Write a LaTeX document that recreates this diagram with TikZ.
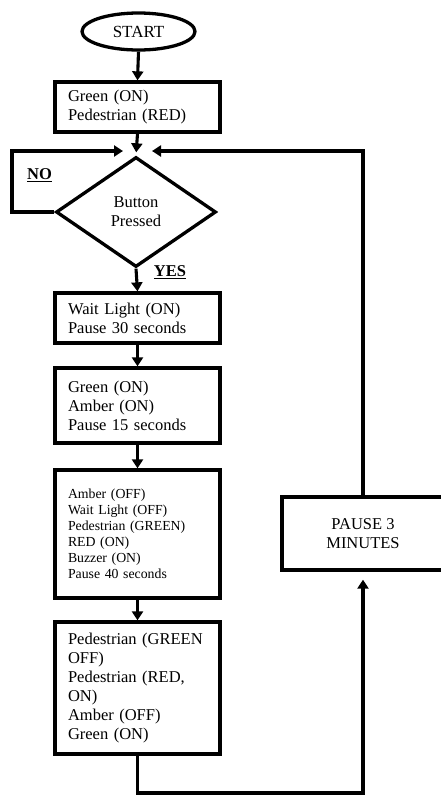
\documentclass[tikz,border=0pt]{standalone}
\usepackage{fontspec}
\setmainfont{Liberation Serif}
\usetikzlibrary{shapes.geometric,arrows.meta}
\tikzset{
  box/.style={draw,line width=3.3pt,minimum width=165pt,text width=139pt,inner xsep=13pt,inner ysep=2pt,align=left,font=\fontsize{16.5}{19}\selectfont},
  arr/.style={line width=3.1pt,-{Triangle[length=9pt,width=11pt]}},
  lbl/.style={font=\fontsize{16.5}{19}\selectfont\bfseries,inner sep=0pt},
}
\begin{document}
\begin{tikzpicture}[x=1pt,y=-1pt]
\useasboundingbox (0,0) rectangle (441,796);
\clip (0,0) rectangle (441,796);
\node[draw,ellipse,line width=3.3pt,minimum width=113pt,minimum height=37pt,inner sep=0pt,font=\fontsize{17}{19}\selectfont] (start) at (138.5,31.5) {START};
\node[box,minimum height=50pt] (b1) at (137.5,107) {Green (ON)\\Pedestrian (RED)};
\node[draw,diamond,line width=3.3pt,aspect=1.4545,minimum width=160pt,minimum height=110pt,inner sep=0pt,align=center,font=\fontsize{16.5}{19}\selectfont] (dec) at (136,212) {Button\\Pressed};
\node[box,minimum height=50pt] (b2) at (137.5,318) {Wait Light (ON)\\Pause 30 seconds};
\node[box,minimum height=75pt] (b3) at (137.5,405.5) {Green (ON)\\Amber (ON)\\Pause 15 seconds};
\node[box,minimum height=128pt,font=\fontsize{13.8}{16}\selectfont] (b4) at (137.5,534) {Amber (OFF)\\Wait Light (OFF)\\Pedestrian (GREEN)\\RED (ON)\\Buzzer (ON)\\Pause 40 seconds};
\node[box,minimum height=132pt] (b5) at (137.5,688) {Pedestrian (GREEN\\OFF)\\Pedestrian (RED,\\ON)\\Amber (OFF)\\Green (ON)};
\node[draw,line width=3.3pt,minimum width=162pt,minimum height=73pt,align=center,inner sep=2pt,font=\fontsize{16.5}{19}\selectfont] (pause) at (363,533.5) {PAUSE 3\\MINUTES};
\node[lbl] (no) at (39.5,175) {\underline{NO}};
\node[lbl] (yes) at (170,272) {\underline{YES}};
\coordinate (lt) at (12,151);
\coordinate (le) at (123,151);
\coordinate (rt) at (363,151);
\coordinate (re) at (152,151);
\coordinate (bl) at (137.5,793);
\coordinate (br) at (363,793);
\draw[arr] (start.south) -- (b1.north);
\draw[arr,shorten >=3pt] (b1.south) -- (dec.north);
\draw[arr] (dec.west) -- (lt |- dec.west) -- (lt) -- (le);
\draw[arr] (pause.north) -- (rt) -- (re);
\draw[arr] (dec.south) -- (b2.north);
\draw[arr] (b2.south) -- (b3.north);
\draw[arr] (b3.south) -- (b4.north);
\draw[arr] (b4.south) -- (b5.north);
\draw[arr,shorten >=8pt] (b5.south) -- (bl) -- (br) -- (pause.south);
\end{tikzpicture}
\end{document}
